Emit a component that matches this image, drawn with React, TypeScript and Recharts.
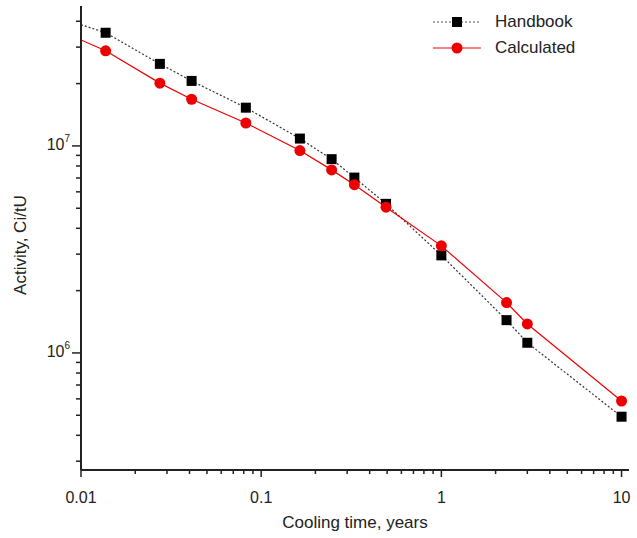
import { LineChart, Line, XAxis, YAxis } from 'recharts';

// cooling time in years (first entry is the line start, no marker)
const times = [0.01, 0.0137, 0.0274, 0.0411, 0.0822, 0.164, 0.246, 0.329, 0.493, 1, 2.3, 3, 10];
const handbook = [3.85e7, 3.52e7, 2.49e7, 2.06e7, 1.53e7, 1.085e7, 8.63e6, 7.03e6, 5.25e6, 2.96e6, 1.44e6, 1.12e6, 4.92e5];
const calculated = [3.25e7, 2.88e7, 2.01e7, 1.68e7, 1.29e7, 9.5e6, 7.66e6, 6.5e6, 5.06e6, 3.29e6, 1.75e6, 1.38e6, 5.86e5];

const xMajor = [0.01, 0.1, 1, 10];
const yMajor = [1e6, 1e7];
const xTicks = [0.01, 0.02, 0.03, 0.04, 0.05, 0.06, 0.07, 0.08, 0.09, 0.1, 0.2, 0.3, 0.4, 0.5, 0.6, 0.7, 0.8, 0.9, 1, 2, 3, 4, 5, 6, 7, 8, 9, 10];
const yTicks = [3e5, 4e5, 5e5, 6e5, 7e5, 8e5, 9e5, 1e6, 2e6, 3e6, 4e6, 5e6, 6e6, 7e6, 8e6, 9e6, 1e7, 2e7, 3e7, 4e7];

const data = times.map((t, i) => ({ t, handbook: handbook[i], calculated: calculated[i] }));

const FONT = '"Liberation Sans", Arial, sans-serif';
const AXIS = '#222';

const XTick = (props: any) => {
  const { x, y, payload } = props;
  const major = xMajor.includes(payload.value);
  return (
    <g>
      <line x1={x} x2={x} y1={y} y2={y + (major ? 7 : 4)} stroke={AXIS} strokeWidth={1.5} />
      {major && (
        <text x={x} y={y + 33} textAnchor="middle" fontSize={16} fontFamily={FONT} fill="#222">
          {String(payload.value)}
        </text>
      )}
    </g>
  );
};

const YTick = (props: any) => {
  const { x, y, payload } = props;
  const major = yMajor.includes(payload.value);
  const exp = Math.round(Math.log10(payload.value));
  return (
    <g>
      <line x1={x - (major ? 9 : 5)} x2={x} y1={y} y2={y} stroke={AXIS} strokeWidth={1.5} />
      {major && (
        <text x={x - 11} y={y + 4} textAnchor="end" fontSize={16} fontFamily={FONT} fill="#222">
          10<tspan dy={-8} fontSize={10}>{exp}</tspan>
        </text>
      )}
    </g>
  );
};

const squareDot = (props: any) => {
  const { cx, cy, index } = props;
  if (index === 0) return <g key={`h${index}`} />;
  return <rect key={`h${index}`} x={cx - 5} y={cy - 5} width={10} height={10} fill="#000" />;
};

const circleDot = (props: any) => {
  const { cx, cy, index } = props;
  if (index === 0) return <g key={`c${index}`} />;
  return <circle key={`c${index}`} cx={cx} cy={cy} r={5.5} fill="#ee0000" />;
};

const LegendBox = () => (
  <div style={{ position: 'absolute', top: 9, left: 431, fontFamily: FONT, fontSize: 17, color: '#222', lineHeight: '26px' }}>
    <div style={{ display: 'flex', alignItems: 'center' }}>
      <svg width={58} height={26}>
        <line x1={2} x2={50} y1={13} y2={13} stroke="#555" strokeWidth={1.2} strokeDasharray="2 2" />
        <rect x={21} y={8} width={10} height={10} fill="#000" />
      </svg>
      <span style={{ marginLeft: 6 }}>Handbook</span>
    </div>
    <div style={{ display: 'flex', alignItems: 'center' }}>
      <svg width={58} height={26}>
        <line x1={2} x2={50} y1={13} y2={13} stroke="#ee0000" strokeWidth={1.2} />
        <circle cx={26} cy={13} r={5.5} fill="#ee0000" />
      </svg>
      <span style={{ marginLeft: 6 }}>Calculated</span>
    </div>
  </div>
);

export default function App() {
  return (
    <div style={{ position: 'absolute', left: 0, top: 0, width: 637, height: 538, background: '#fff' }}>
      <LineChart width={637} height={538} data={data} margin={{ top: 6, right: 8, left: 0, bottom: 0 }}>
        <XAxis
          dataKey="t"
          type="number"
          scale="log"
          domain={[0.01, 11]}
          allowDataOverflow
          ticks={xTicks}
          interval={0}
          tick={<XTick />}
          tickLine={false}
          tickSize={0}
          tickMargin={0}
          height={68}
          axisLine={{ stroke: AXIS, strokeWidth: 2 }}
          label={{ value: 'Cooling time, years', position: 'insideBottom', offset: 10, fontSize: 17, fontFamily: FONT, fill: '#222' }}
        />
        <YAxis
          type="number"
          scale="log"
          domain={[2.72e5, 4.74e7]}
          allowDataOverflow
          ticks={yTicks}
          interval={0}
          tick={<YTick />}
          tickLine={false}
          tickSize={0}
          tickMargin={0}
          width={81}
          axisLine={{ stroke: AXIS, strokeWidth: 2 }}
          label={{ value: 'Activity, Ci/tU', angle: -90, position: 'insideLeft', offset: 20, dy: 7, fontSize: 17, fontFamily: FONT, fill: '#222', style: { textAnchor: 'middle' } }}
        />
        <Line
          dataKey="handbook"
          stroke="#333"
          strokeWidth={1.2}
          strokeDasharray="2 2"
          dot={squareDot}
          activeDot={false}
          isAnimationActive={false}
        />
        <Line
          dataKey="calculated"
          stroke="#ee0000"
          strokeWidth={1.2}
          dot={circleDot}
          activeDot={false}
          isAnimationActive={false}
        />
      </LineChart>
      <LegendBox />
    </div>
  );
}
